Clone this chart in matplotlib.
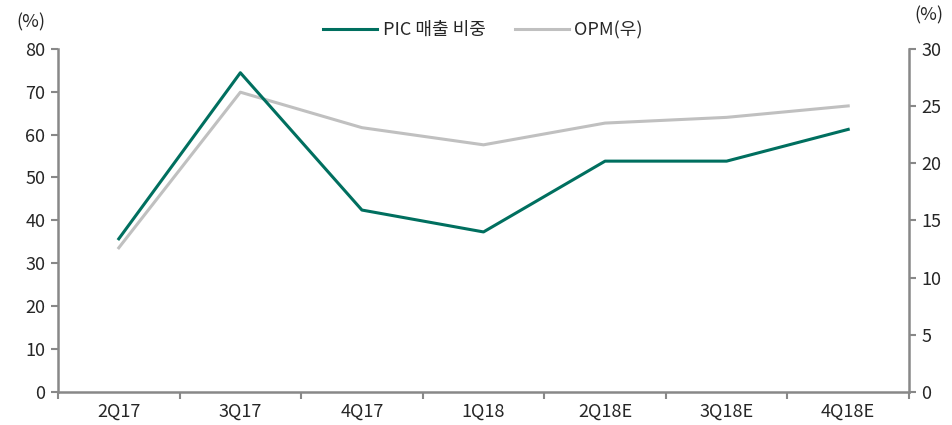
import matplotlib
matplotlib.use("Agg")
from matplotlib import pyplot as plt
import numpy as np

plt.rcParams['font.family'] = ['Noto Sans CJK KR', 'DejaVu Sans']

quarters = ['2Q17', '3Q17', '4Q17', '1Q18', '2Q18E', '3Q18E', '4Q18E']
pic_share = [35.7, 74.4, 42.4, 37.3, 53.8, 53.8, 61.2]
opm = [12.6, 26.2, 23.1, 21.6, 23.5, 24.0, 25.0]

green = '#006F5F'
grey = '#C0C0C0'
spine = '#888888'
txt = '#262626'
fs = 13

fig = plt.figure(figsize=(9.52, 4.25), dpi=100)
ax = fig.add_axes([58 / 952, 1 - 392 / 425, (909 - 58) / 952, (392 - 48.7) / 425])
ax2 = ax.twinx()

x = np.arange(len(quarters))
l1, = ax.plot(x, pic_share, color=green, lw=2.2, label='PIC 매출 비중')
l2, = ax2.plot(x, opm, color=grey, lw=2.2, label='OPM(우)')
ax.set_zorder(ax2.get_zorder() + 1)
ax.patch.set_visible(False)

ax.set_xlim(-0.5, len(quarters) - 0.5)
ax.set_ylim(0, 80)
ax2.set_ylim(0, 30)
ax.set_yticks(range(0, 81, 10))
ax2.set_yticks(range(0, 31, 5))

ax.set_xticks(x)
ax.set_xticklabels(quarters)
ax.set_xticks(np.arange(-0.5, len(quarters), 1), minor=True)
ax.tick_params(axis='x', which='major', length=0, pad=8, labelsize=fs, labelcolor=txt)
ax.tick_params(axis='x', which='minor', length=5, width=1.5, color=spine)
ax.tick_params(axis='y', length=5, width=1.5, color=spine, labelsize=fs, labelcolor=txt, pad=4)
ax2.tick_params(axis='y', length=5, width=1.5, color=spine, labelsize=fs, labelcolor=txt, pad=4)

for a in (ax, ax2):
    a.spines['top'].set_visible(False)
    for s in ('left', 'right', 'bottom'):
        a.spines[s].set_color(spine)
        a.spines[s].set_linewidth(1.8)
ax.spines['right'].set_visible(False)
ax2.spines['left'].set_visible(False)
ax2.spines['bottom'].set_visible(False)

fig.text(31 / 952, 1 - 22 / 425, '(%)', ha='center', va='center', fontsize=fs, color=txt)
fig.text(929 / 952, 1 - 15 / 425, '(%)', ha='center', va='center', fontsize=fs, color=txt)

fig.legend(handles=[l1, l2], loc='center', bbox_to_anchor=(483 / 952, 1 - 30 / 425),
           ncol=2, frameon=False, fontsize=fs, handlelength=3.0, handletextpad=0.3,
           columnspacing=1.6, labelcolor=txt)

fig.savefig('out.png', dpi=100)
